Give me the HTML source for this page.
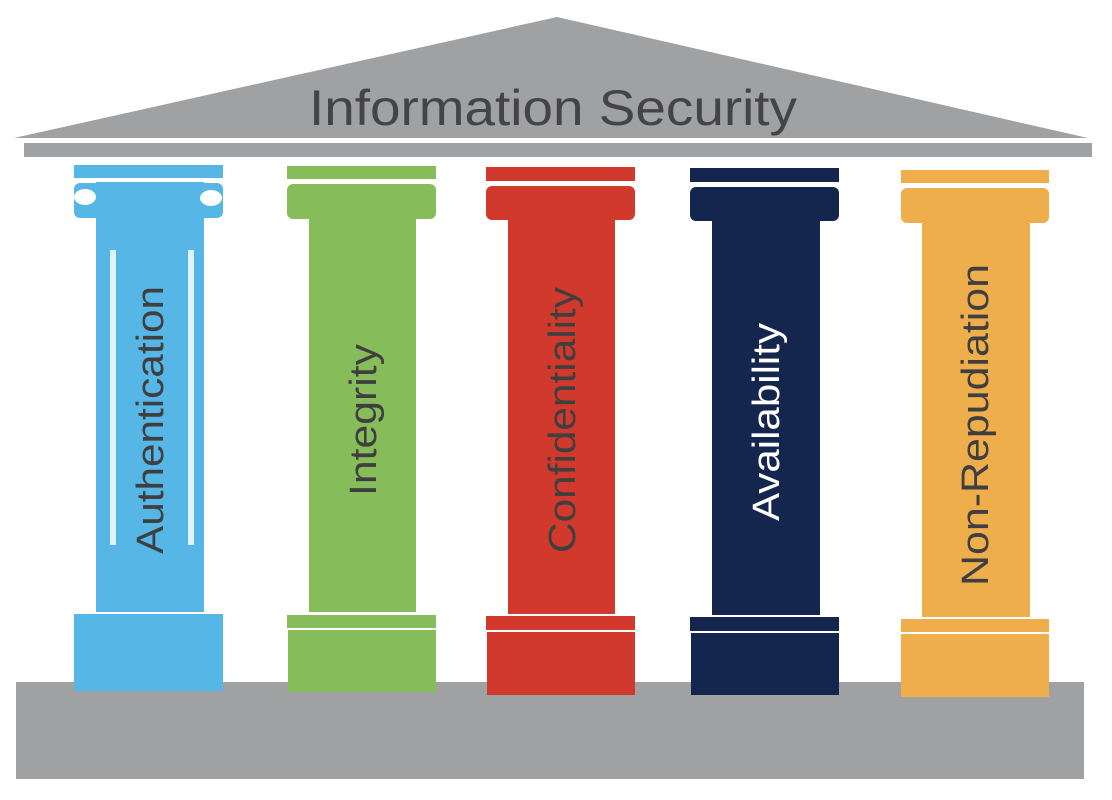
<!DOCTYPE html>
<html><head><meta charset="utf-8"><style>
html,body{margin:0;padding:0;background:#fff;}
svg{display:block;}
</style></head><body>
<svg width="1112" height="800" viewBox="0 0 1112 800" xmlns="http://www.w3.org/2000/svg" font-family="Liberation Sans, sans-serif">
<polygon points="14,138 557,17 1088,138" fill="#a0a1a3"/>
<text x="553" y="125" text-anchor="middle" font-size="50" fill="#444446" textLength="488" lengthAdjust="spacingAndGlyphs">Information Security</text>
<rect x="24" y="143" width="1068" height="14" fill="#a0a1a3"/>
<rect x="16" y="682" width="1068" height="97" fill="#a0a1a3"/>

<!-- Pillar 1 blue -->
<g fill="#56b7e6">
<rect x="74" y="165" width="149" height="13"/>
<rect x="74" y="183" width="149" height="35" rx="6"/>
<rect x="96" y="182" width="108" height="430"/>
<rect x="74" y="614" width="149" height="77"/>
</g>
<ellipse cx="85" cy="197" rx="11" ry="8" fill="#fff"/>
<ellipse cx="211" cy="198" rx="11" ry="8" fill="#fff"/>
<rect x="110" y="250" width="6" height="295" fill="#dff4fb"/>
<rect x="188" y="250" width="6" height="295" fill="#dff4fb"/>
<text transform="translate(163,420) rotate(-90)" text-anchor="middle" font-size="38" fill="#3f3f3f" textLength="268" lengthAdjust="spacingAndGlyphs">Authentication</text>

<!-- Pillar 2 green -->
<g fill="#86bd5a">
<rect x="287" y="166" width="149" height="13"/>
<rect x="287" y="184" width="149" height="35" rx="6"/>
<rect x="309" y="215" width="107" height="397"/>
<rect x="287" y="615" width="149" height="13"/>
<rect x="288" y="630" width="148" height="62"/>
</g>
<text transform="translate(376,420) rotate(-90)" text-anchor="middle" font-size="38" fill="#3f3f3f" textLength="152" lengthAdjust="spacingAndGlyphs">Integrity</text>

<!-- Pillar 3 red -->
<g fill="#d0392b">
<rect x="486" y="167" width="149" height="14"/>
<rect x="486" y="186" width="149" height="34" rx="6"/>
<rect x="508" y="215" width="107" height="399"/>
<rect x="486" y="616" width="149" height="14"/>
<rect x="487" y="632" width="148" height="63"/>
</g>
<text transform="translate(575,420) rotate(-90)" text-anchor="middle" font-size="38" fill="#3f3f3f" textLength="266" lengthAdjust="spacingAndGlyphs">Confidentiality</text>

<!-- Pillar 4 navy -->
<g fill="#14264d">
<rect x="690" y="168" width="149" height="14"/>
<rect x="690" y="187" width="149" height="34" rx="6"/>
<rect x="712" y="215" width="108" height="400"/>
<rect x="690" y="617" width="149" height="14"/>
<rect x="691" y="633" width="148" height="62"/>
</g>
<text transform="translate(779,422) rotate(-90)" text-anchor="middle" font-size="38" fill="#ffffff" textLength="198" lengthAdjust="spacingAndGlyphs">Availability</text>

<!-- Pillar 5 orange -->
<g fill="#efae4c">
<rect x="901" y="170" width="148" height="13"/>
<rect x="901" y="188" width="148" height="35" rx="6"/>
<rect x="922" y="215" width="108" height="402"/>
<rect x="901" y="619" width="148" height="13"/>
<rect x="901" y="634" width="148" height="63"/>
</g>
<text transform="translate(988,425) rotate(-90)" text-anchor="middle" font-size="38" fill="#3f3f3f" textLength="322" lengthAdjust="spacingAndGlyphs">Non-Repudiation</text>
</svg>
</body></html>
